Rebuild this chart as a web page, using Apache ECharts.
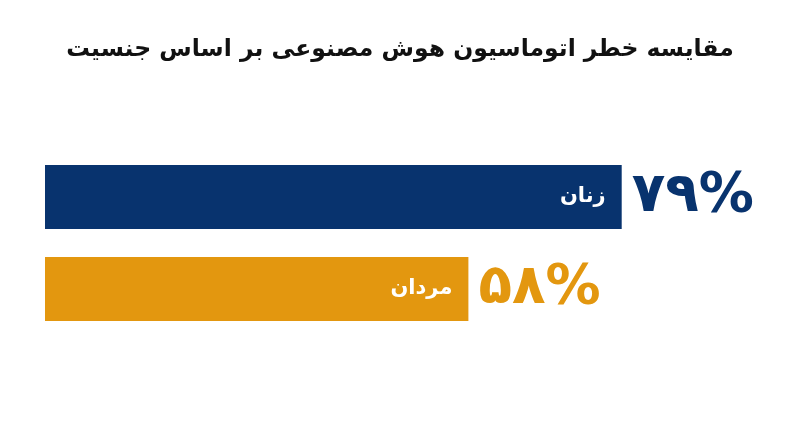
<!DOCTYPE html>
<html lang="fa">
<head>
    <meta charset="UTF-8">
    <script src="https://cdn.jsdelivr.net/npm/echarts@6/dist/echarts.min.js"></script>
    <title>مقایسه خطر اتوماسیون</title>
</head>
<body>
    <style>
        html, body, #main {
            margin: 0;
            width: 800px;
            height: 447px;
            background: #fff;
        }
    </style>
    <div id="main"></div>
    <script>
        var categories = ['زنان', 'مردان'];
        var values = [79, 58];
        var colors = ['#08336e', '#e3970f'];

        function toFa(n) {
            return String(n).replace(/\d/g, function (d) {
                return '۰۱۲۳۴۵۶۷۸۹'[d];
            });
        }

        var font = 'DejaVu Sans';
        var chart = echarts.init(document.getElementById('main'));
        chart.setOption({
            animation: false,
            title: {
                text: 'مقایسه خطر اتوماسیون هوش مصنوعی بر اساس جنسیت',
                left: 'center',
                top: 33,
                textStyle: { fontFamily: font, fontSize: 23.5, fontWeight: 'bold', color: '#111' }
            },
            grid: { left: 45, right: 25, top: 151, height: 184 },
            xAxis: { type: 'value', min: 0, max: 100, show: false },
            yAxis: { type: 'category', data: categories, inverse: true, show: false },
            series: [
                {
                    type: 'bar',
                    barWidth: 64,
                    data: values.map(function (v, i) {
                        return { value: v, itemStyle: { color: colors[i] } };
                    }),
                    label: {
                        show: true,
                        position: 'insideRight',
                        distance: 16,
                        formatter: function (p) { return categories[p.dataIndex]; },
                        color: '#fff',
                        fontFamily: font,
                        fontSize: 21,
                        fontWeight: 'bold'
                    }
                },
                {
                    type: 'bar',
                    barWidth: 64,
                    barGap: '-100%',
                    silent: true,
                    data: values.map(function (v, i) {
                        return { value: v, itemStyle: { color: 'transparent' }, label: { color: colors[i] } };
                    }),
                    label: {
                        show: true,
                        position: 'right',
                        distance: 10,
                        formatter: function (p) { return toFa(p.value) + '%'; },
                        fontFamily: font,
                        fontSize: 55,
                        fontWeight: 'bold'
                    }
                }
            ]
        });
    </script>
</body>
</html>
